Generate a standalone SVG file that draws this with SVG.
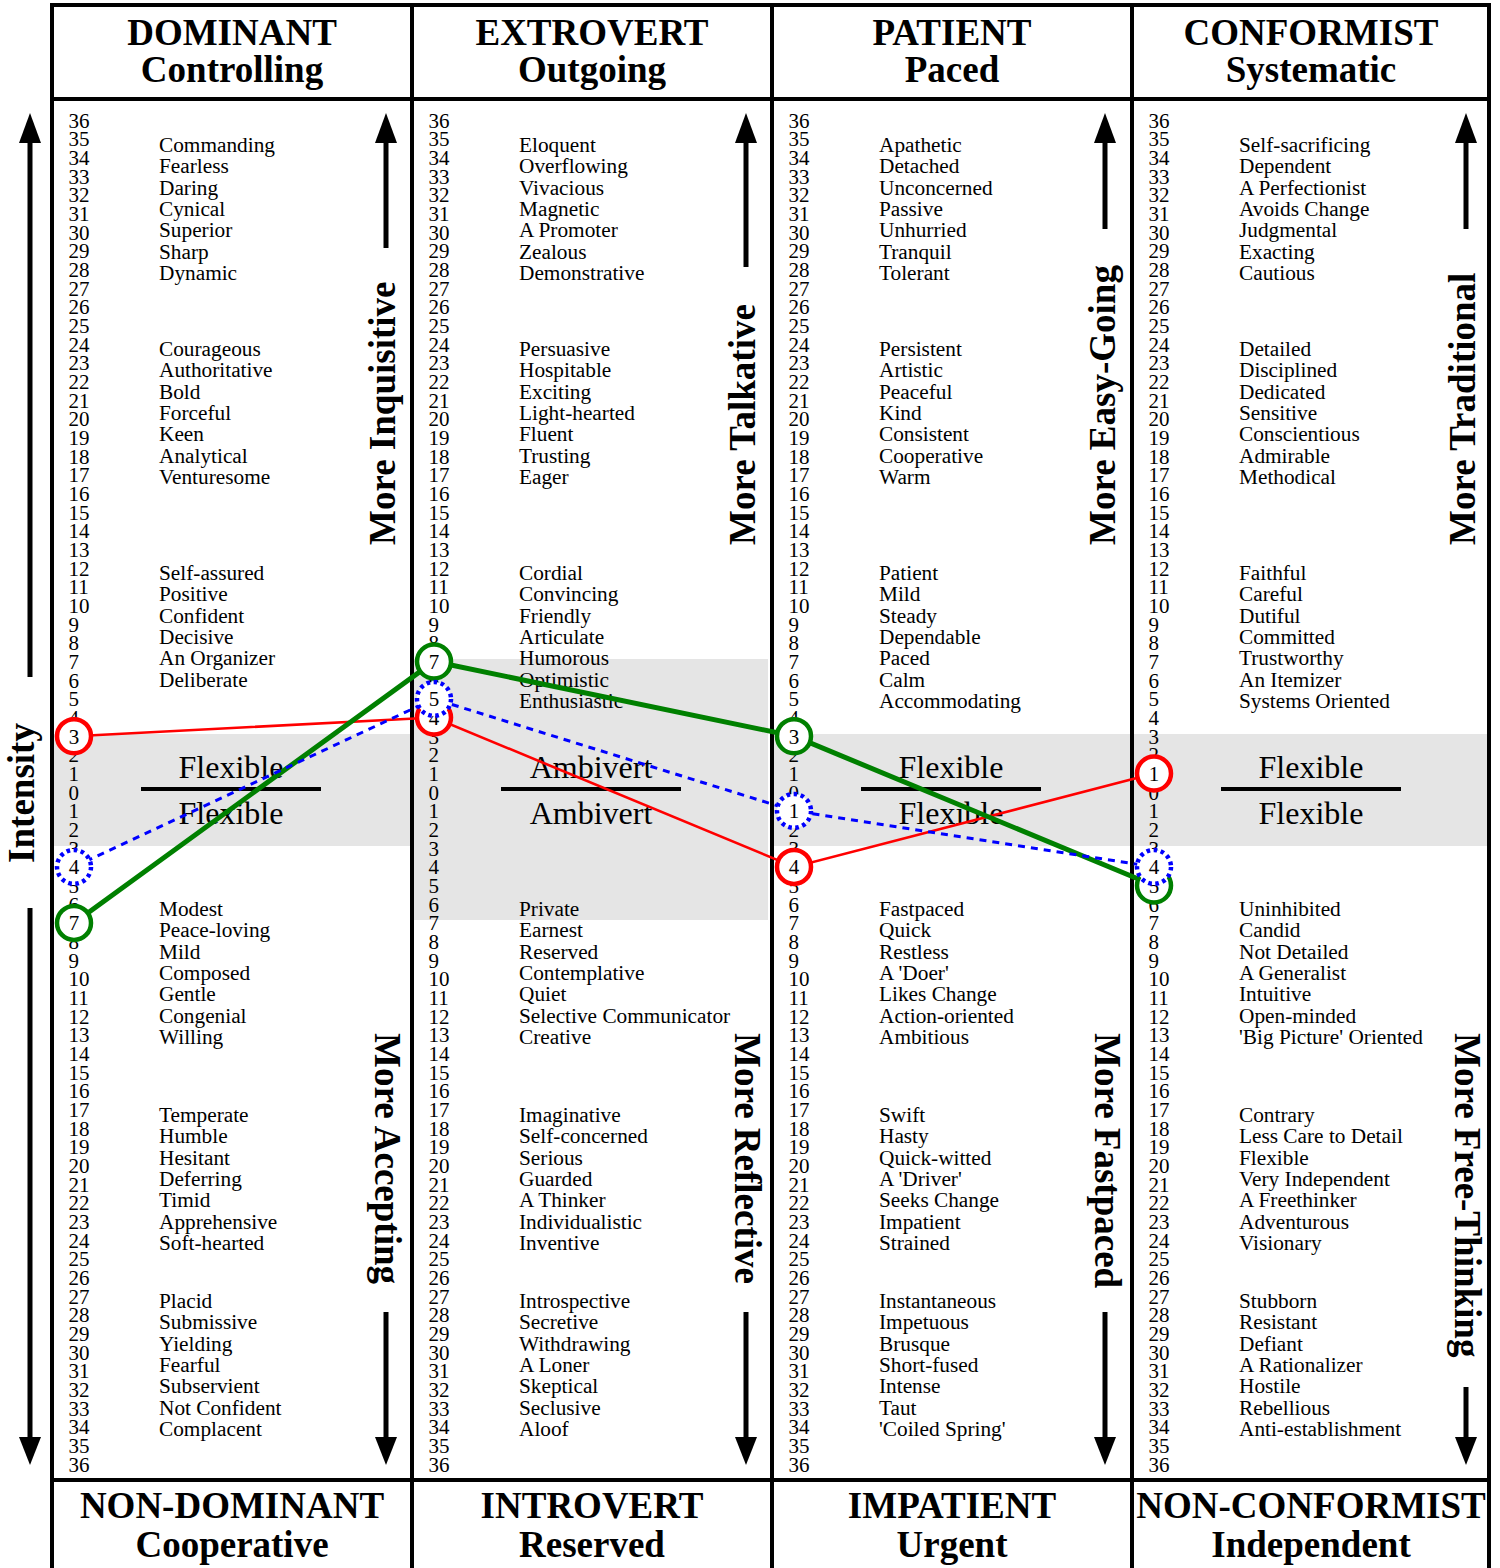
<svg xmlns="http://www.w3.org/2000/svg" xmlns:xlink="http://www.w3.org/1999/xlink" width="1500" height="1568" viewBox="0 0 1500 1568">
  <style>
    text { font-family: "Liberation Serif", "Times New Roman", serif; fill: #000; }
    .hdr { font-size: 37px; font-weight: bold; text-anchor: middle; }
    .side { font-size: 37px; font-weight: bold; }
    .num { font-size: 21px; }
    .word { font-size: 21.3px; }
    .mid { font-size: 32px; text-anchor: middle; }
    .cnum { font-size: 21px; text-anchor: middle; }
    .band { fill: #e5e5e5; }
    .rule { stroke: #000; stroke-width: 4; fill: none; }
    .shaft { stroke: #000; stroke-width: 5; }
    .head { fill: #000; }
    .red { stroke: #ff0000; stroke-width: 2.6; fill: none; }
    .green { stroke: #008000; stroke-width: 5; fill: none; }
    .blue { stroke: #0000ff; stroke-width: 3; stroke-dasharray: 7 6; fill: none; }
    .dot-red { stroke: #ff0000; stroke-width: 4.5; fill: #fff; }
    .dot-green { stroke: #008000; stroke-width: 4.5; fill: #fff; }
    .dot-blue { stroke: #0000ff; stroke-width: 4.5; stroke-dasharray: 3.6 3.6; fill: #fff; }
  </style>
  <defs>
    <!-- intensity scale 36..0..36 shared by all four columns -->
    <text id="scale" class="num"><tspan x="68.5" y="127.7">36</tspan><tspan x="68.5" dy="18.667">35</tspan><tspan x="68.5" dy="18.667">34</tspan><tspan x="68.5" dy="18.667">33</tspan><tspan x="68.5" dy="18.667">32</tspan><tspan x="68.5" dy="18.667">31</tspan><tspan x="68.5" dy="18.667">30</tspan><tspan x="68.5" dy="18.667">29</tspan><tspan x="68.5" dy="18.667">28</tspan><tspan x="68.5" dy="18.667">27</tspan><tspan x="68.5" dy="18.667">26</tspan><tspan x="68.5" dy="18.667">25</tspan><tspan x="68.5" dy="18.667">24</tspan><tspan x="68.5" dy="18.667">23</tspan><tspan x="68.5" dy="18.667">22</tspan><tspan x="68.5" dy="18.667">21</tspan><tspan x="68.5" dy="18.667">20</tspan><tspan x="68.5" dy="18.667">19</tspan><tspan x="68.5" dy="18.667">18</tspan><tspan x="68.5" dy="18.667">17</tspan><tspan x="68.5" dy="18.667">16</tspan><tspan x="68.5" dy="18.667">15</tspan><tspan x="68.5" dy="18.667">14</tspan><tspan x="68.5" dy="18.667">13</tspan><tspan x="68.5" dy="18.667">12</tspan><tspan x="68.5" dy="18.667">11</tspan><tspan x="68.5" dy="18.667">10</tspan><tspan x="68.5" dy="18.667">9</tspan><tspan x="68.5" dy="18.667">8</tspan><tspan x="68.5" dy="18.667">7</tspan><tspan x="68.5" dy="18.667">6</tspan><tspan x="68.5" dy="18.667">5</tspan><tspan x="68.5" dy="18.667">4</tspan><tspan x="68.5" dy="18.667">3</tspan><tspan x="68.5" dy="18.667">2</tspan><tspan x="68.5" dy="18.667">1</tspan><tspan x="68.5" dy="18.667">0</tspan><tspan x="68.5" dy="18.667">1</tspan><tspan x="68.5" dy="18.667">2</tspan><tspan x="68.5" dy="18.667">3</tspan><tspan x="68.5" dy="18.667">4</tspan><tspan x="68.5" dy="18.667">5</tspan><tspan x="68.5" dy="18.667">6</tspan><tspan x="68.5" dy="18.667">7</tspan><tspan x="68.5" dy="18.667">8</tspan><tspan x="68.5" dy="18.667">9</tspan><tspan x="68.5" dy="18.667">10</tspan><tspan x="68.5" dy="18.667">11</tspan><tspan x="68.5" dy="18.667">12</tspan><tspan x="68.5" dy="18.667">13</tspan><tspan x="68.5" dy="18.667">14</tspan><tspan x="68.5" dy="18.667">15</tspan><tspan x="68.5" dy="18.667">16</tspan><tspan x="68.5" dy="18.667">17</tspan><tspan x="68.5" dy="18.667">18</tspan><tspan x="68.5" dy="18.667">19</tspan><tspan x="68.5" dy="18.667">20</tspan><tspan x="68.5" dy="18.667">21</tspan><tspan x="68.5" dy="18.667">22</tspan><tspan x="68.5" dy="18.667">23</tspan><tspan x="68.5" dy="18.667">24</tspan><tspan x="68.5" dy="18.667">25</tspan><tspan x="68.5" dy="18.667">26</tspan><tspan x="68.5" dy="18.667">27</tspan><tspan x="68.5" dy="18.667">28</tspan><tspan x="68.5" dy="18.667">29</tspan><tspan x="68.5" dy="18.667">30</tspan><tspan x="68.5" dy="18.667">31</tspan><tspan x="68.5" dy="18.667">32</tspan><tspan x="68.5" dy="18.667">33</tspan><tspan x="68.5" dy="18.667">34</tspan><tspan x="68.5" dy="18.667">35</tspan><tspan x="68.5" dy="18.667">36</tspan></text>
    <path id="head-up" d="M0,0 L11,30 L-11,30 Z"/>
    <path id="head-down" d="M0,0 L11,-28 L-11,-28 Z"/>
  </defs>

  <rect width="1500" height="1568" fill="#fff"/>

  <!-- neutral zones -->
  <g id="bands">
    <rect class="band" x="52" y="734" width="360" height="112"/>
    <rect class="band" x="412" y="659" width="356" height="261"/>
    <rect class="band" x="772" y="734" width="360" height="112"/>
    <rect class="band" x="1132" y="734" width="358" height="112"/>
  </g>

  <!-- scales -->
  <g id="scales">
    <use xlink:href="#scale"/>
    <use xlink:href="#scale" x="360"/>
    <use xlink:href="#scale" x="720"/>
    <use xlink:href="#scale" x="1080"/>
  </g>

  <!-- column: DOMINANT / NON-DOMINANT -->
  <g id="col-dominant">
    <text class="hdr" x="232" y="45">DOMINANT</text>
    <text class="hdr" x="232" y="82">Controlling</text>
    <text class="word"><tspan x="159" y="152">Commanding</tspan><tspan x="159" dy="21.333">Fearless</tspan><tspan x="159" dy="21.333">Daring</tspan><tspan x="159" dy="21.333">Cynical</tspan><tspan x="159" dy="21.333">Superior</tspan><tspan x="159" dy="21.333">Sharp</tspan><tspan x="159" dy="21.333">Dynamic</tspan></text>
    <text class="word"><tspan x="159" y="356">Courageous</tspan><tspan x="159" dy="21.333">Authoritative</tspan><tspan x="159" dy="21.333">Bold</tspan><tspan x="159" dy="21.333">Forceful</tspan><tspan x="159" dy="21.333">Keen</tspan><tspan x="159" dy="21.333">Analytical</tspan><tspan x="159" dy="21.333">Venturesome</tspan></text>
    <text class="word"><tspan x="159" y="580">Self-assured</tspan><tspan x="159" dy="21.333">Positive</tspan><tspan x="159" dy="21.333">Confident</tspan><tspan x="159" dy="21.333">Decisive</tspan><tspan x="159" dy="21.333">An Organizer</tspan><tspan x="159" dy="21.333">Deliberate</tspan></text>
    <text class="mid" x="231" y="778">Flexible</text>
    <line class="rule" x1="141" y1="789" x2="321" y2="789"/>
    <text class="mid" x="231" y="824">Flexible</text>
    <text class="word"><tspan x="159" y="916">Modest</tspan><tspan x="159" dy="21.333">Peace-loving</tspan><tspan x="159" dy="21.333">Mild</tspan><tspan x="159" dy="21.333">Composed</tspan><tspan x="159" dy="21.333">Gentle</tspan><tspan x="159" dy="21.333">Congenial</tspan><tspan x="159" dy="21.333">Willing</tspan></text>
    <text class="word"><tspan x="159" y="1122">Temperate</tspan><tspan x="159" dy="21.333">Humble</tspan><tspan x="159" dy="21.333">Hesitant</tspan><tspan x="159" dy="21.333">Deferring</tspan><tspan x="159" dy="21.333">Timid</tspan><tspan x="159" dy="21.333">Apprehensive</tspan><tspan x="159" dy="21.333">Soft-hearted</tspan></text>
    <text class="word"><tspan x="159" y="1308">Placid</tspan><tspan x="159" dy="21.333">Submissive</tspan><tspan x="159" dy="21.333">Yielding</tspan><tspan x="159" dy="21.333">Fearful</tspan><tspan x="159" dy="21.333">Subservient</tspan><tspan x="159" dy="21.333">Not Confident</tspan><tspan x="159" dy="21.333">Complacent</tspan></text>
    <text class="hdr" x="232" y="1518">NON-DOMINANT</text>
    <text class="hdr" x="232" y="1557">Cooperative</text>
    <text class="side" transform="translate(395,545) rotate(-90)">More Inquisitive</text>
    <line class="shaft" x1="386" y1="248" x2="386" y2="140"/>
    <use xlink:href="#head-up" x="386" y="113" class="head"/>
    <text class="side" transform="translate(375,1033) rotate(90)">More Accepting</text>
    <line class="shaft" x1="386" y1="1312" x2="386" y2="1440"/>
    <use xlink:href="#head-down" x="386" y="1465" class="head"/>
  </g>

  <!-- column: EXTROVERT / INTROVERT -->
  <g id="col-extrovert">
    <text class="hdr" x="592" y="45">EXTROVERT</text>
    <text class="hdr" x="592" y="82">Outgoing</text>
    <text class="word"><tspan x="519" y="152">Eloquent</tspan><tspan x="519" dy="21.333">Overflowing</tspan><tspan x="519" dy="21.333">Vivacious</tspan><tspan x="519" dy="21.333">Magnetic</tspan><tspan x="519" dy="21.333">A Promoter</tspan><tspan x="519" dy="21.333">Zealous</tspan><tspan x="519" dy="21.333">Demonstrative</tspan></text>
    <text class="word"><tspan x="519" y="356">Persuasive</tspan><tspan x="519" dy="21.333">Hospitable</tspan><tspan x="519" dy="21.333">Exciting</tspan><tspan x="519" dy="21.333">Light-hearted</tspan><tspan x="519" dy="21.333">Fluent</tspan><tspan x="519" dy="21.333">Trusting</tspan><tspan x="519" dy="21.333">Eager</tspan></text>
    <text class="word"><tspan x="519" y="580">Cordial</tspan><tspan x="519" dy="21.333">Convincing</tspan><tspan x="519" dy="21.333">Friendly</tspan><tspan x="519" dy="21.333">Articulate</tspan><tspan x="519" dy="21.333">Humorous</tspan><tspan x="519" dy="21.333">Optimistic</tspan><tspan x="519" dy="21.333">Enthusiastic</tspan></text>
    <text class="mid" x="591" y="778">Ambivert</text>
    <line class="rule" x1="501" y1="789" x2="681" y2="789"/>
    <text class="mid" x="591" y="824">Ambivert</text>
    <text class="word"><tspan x="519" y="916">Private</tspan><tspan x="519" dy="21.333">Earnest</tspan><tspan x="519" dy="21.333">Reserved</tspan><tspan x="519" dy="21.333">Contemplative</tspan><tspan x="519" dy="21.333">Quiet</tspan><tspan x="519" dy="21.333">Selective Communicator</tspan><tspan x="519" dy="21.333">Creative</tspan></text>
    <text class="word"><tspan x="519" y="1122">Imaginative</tspan><tspan x="519" dy="21.333">Self-concerned</tspan><tspan x="519" dy="21.333">Serious</tspan><tspan x="519" dy="21.333">Guarded</tspan><tspan x="519" dy="21.333">A Thinker</tspan><tspan x="519" dy="21.333">Individualistic</tspan><tspan x="519" dy="21.333">Inventive</tspan></text>
    <text class="word"><tspan x="519" y="1308">Introspective</tspan><tspan x="519" dy="21.333">Secretive</tspan><tspan x="519" dy="21.333">Withdrawing</tspan><tspan x="519" dy="21.333">A Loner</tspan><tspan x="519" dy="21.333">Skeptical</tspan><tspan x="519" dy="21.333">Seclusive</tspan><tspan x="519" dy="21.333">Aloof</tspan></text>
    <text class="hdr" x="592" y="1518">INTROVERT</text>
    <text class="hdr" x="592" y="1557">Reserved</text>
    <text class="side" transform="translate(755,545) rotate(-90)">More Talkative</text>
    <line class="shaft" x1="746" y1="267" x2="746" y2="140"/>
    <use xlink:href="#head-up" x="746" y="113" class="head"/>
    <text class="side" transform="translate(735,1033) rotate(90)">More Reflective</text>
    <line class="shaft" x1="746" y1="1312" x2="746" y2="1440"/>
    <use xlink:href="#head-down" x="746" y="1465" class="head"/>
  </g>

  <!-- column: PATIENT / IMPATIENT -->
  <g id="col-patient">
    <text class="hdr" x="952" y="45">PATIENT</text>
    <text class="hdr" x="952" y="82">Paced</text>
    <text class="word"><tspan x="879" y="152">Apathetic</tspan><tspan x="879" dy="21.333">Detached</tspan><tspan x="879" dy="21.333">Unconcerned</tspan><tspan x="879" dy="21.333">Passive</tspan><tspan x="879" dy="21.333">Unhurried</tspan><tspan x="879" dy="21.333">Tranquil</tspan><tspan x="879" dy="21.333">Tolerant</tspan></text>
    <text class="word"><tspan x="879" y="356">Persistent</tspan><tspan x="879" dy="21.333">Artistic</tspan><tspan x="879" dy="21.333">Peaceful</tspan><tspan x="879" dy="21.333">Kind</tspan><tspan x="879" dy="21.333">Consistent</tspan><tspan x="879" dy="21.333">Cooperative</tspan><tspan x="879" dy="21.333">Warm</tspan></text>
    <text class="word"><tspan x="879" y="580">Patient</tspan><tspan x="879" dy="21.333">Mild</tspan><tspan x="879" dy="21.333">Steady</tspan><tspan x="879" dy="21.333">Dependable</tspan><tspan x="879" dy="21.333">Paced</tspan><tspan x="879" dy="21.333">Calm</tspan><tspan x="879" dy="21.333">Accommodating</tspan></text>
    <text class="mid" x="951" y="778">Flexible</text>
    <line class="rule" x1="861" y1="789" x2="1041" y2="789"/>
    <text class="mid" x="951" y="824">Flexible</text>
    <text class="word"><tspan x="879" y="916">Fastpaced</tspan><tspan x="879" dy="21.333">Quick</tspan><tspan x="879" dy="21.333">Restless</tspan><tspan x="879" dy="21.333">A 'Doer'</tspan><tspan x="879" dy="21.333">Likes Change</tspan><tspan x="879" dy="21.333">Action-oriented</tspan><tspan x="879" dy="21.333">Ambitious</tspan></text>
    <text class="word"><tspan x="879" y="1122">Swift</tspan><tspan x="879" dy="21.333">Hasty</tspan><tspan x="879" dy="21.333">Quick-witted</tspan><tspan x="879" dy="21.333">A 'Driver'</tspan><tspan x="879" dy="21.333">Seeks Change</tspan><tspan x="879" dy="21.333">Impatient</tspan><tspan x="879" dy="21.333">Strained</tspan></text>
    <text class="word"><tspan x="879" y="1308">Instantaneous</tspan><tspan x="879" dy="21.333">Impetuous</tspan><tspan x="879" dy="21.333">Brusque</tspan><tspan x="879" dy="21.333">Short-fused</tspan><tspan x="879" dy="21.333">Intense</tspan><tspan x="879" dy="21.333">Taut</tspan><tspan x="879" dy="21.333">'Coiled Spring'</tspan></text>
    <text class="hdr" x="952" y="1518">IMPATIENT</text>
    <text class="hdr" x="952" y="1557">Urgent</text>
    <text class="side" transform="translate(1115,545) rotate(-90)">More Easy-Going</text>
    <line class="shaft" x1="1105" y1="229" x2="1105" y2="140"/>
    <use xlink:href="#head-up" x="1105" y="113" class="head"/>
    <text class="side" transform="translate(1095,1033) rotate(90)">More Fastpaced</text>
    <line class="shaft" x1="1105" y1="1312" x2="1105" y2="1440"/>
    <use xlink:href="#head-down" x="1105" y="1465" class="head"/>
  </g>

  <!-- column: CONFORMIST / NON-CONFORMIST -->
  <g id="col-conformist">
    <text class="hdr" x="1311" y="45">CONFORMIST</text>
    <text class="hdr" x="1311" y="82">Systematic</text>
    <text class="word"><tspan x="1239" y="152">Self-sacrificing</tspan><tspan x="1239" dy="21.333">Dependent</tspan><tspan x="1239" dy="21.333">A Perfectionist</tspan><tspan x="1239" dy="21.333">Avoids Change</tspan><tspan x="1239" dy="21.333">Judgmental</tspan><tspan x="1239" dy="21.333">Exacting</tspan><tspan x="1239" dy="21.333">Cautious</tspan></text>
    <text class="word"><tspan x="1239" y="356">Detailed</tspan><tspan x="1239" dy="21.333">Disciplined</tspan><tspan x="1239" dy="21.333">Dedicated</tspan><tspan x="1239" dy="21.333">Sensitive</tspan><tspan x="1239" dy="21.333">Conscientious</tspan><tspan x="1239" dy="21.333">Admirable</tspan><tspan x="1239" dy="21.333">Methodical</tspan></text>
    <text class="word"><tspan x="1239" y="580">Faithful</tspan><tspan x="1239" dy="21.333">Careful</tspan><tspan x="1239" dy="21.333">Dutiful</tspan><tspan x="1239" dy="21.333">Committed</tspan><tspan x="1239" dy="21.333">Trustworthy</tspan><tspan x="1239" dy="21.333">An Itemizer</tspan><tspan x="1239" dy="21.333">Systems Oriented</tspan></text>
    <text class="mid" x="1311" y="778">Flexible</text>
    <line class="rule" x1="1221" y1="789" x2="1401" y2="789"/>
    <text class="mid" x="1311" y="824">Flexible</text>
    <text class="word"><tspan x="1239" y="916">Uninhibited</tspan><tspan x="1239" dy="21.333">Candid</tspan><tspan x="1239" dy="21.333">Not Detailed</tspan><tspan x="1239" dy="21.333">A Generalist</tspan><tspan x="1239" dy="21.333">Intuitive</tspan><tspan x="1239" dy="21.333">Open-minded</tspan><tspan x="1239" dy="21.333">'Big Picture' Oriented</tspan></text>
    <text class="word"><tspan x="1239" y="1122">Contrary</tspan><tspan x="1239" dy="21.333">Less Care to Detail</tspan><tspan x="1239" dy="21.333">Flexible</tspan><tspan x="1239" dy="21.333">Very Independent</tspan><tspan x="1239" dy="21.333">A Freethinker</tspan><tspan x="1239" dy="21.333">Adventurous</tspan><tspan x="1239" dy="21.333">Visionary</tspan></text>
    <text class="word"><tspan x="1239" y="1308">Stubborn</tspan><tspan x="1239" dy="21.333">Resistant</tspan><tspan x="1239" dy="21.333">Defiant</tspan><tspan x="1239" dy="21.333">A Rationalizer</tspan><tspan x="1239" dy="21.333">Hostile</tspan><tspan x="1239" dy="21.333">Rebellious</tspan><tspan x="1239" dy="21.333">Anti-establishment</tspan></text>
    <text class="hdr" x="1311" y="1518">NON-CONFORMIST</text>
    <text class="hdr" x="1311" y="1557">Independent</text>
    <text class="side" transform="translate(1475,545) rotate(-90)">More Traditional</text>
    <line class="shaft" x1="1466" y1="229" x2="1466" y2="140"/>
    <use xlink:href="#head-up" x="1466" y="113" class="head"/>
    <text class="side" transform="translate(1455,1033) rotate(90)">More Free-Thinking</text>
    <line class="shaft" x1="1466" y1="1387" x2="1466" y2="1440"/>
    <use xlink:href="#head-down" x="1466" y="1465" class="head"/>
  </g>

  <!-- intensity axis on the far left -->
  <g id="intensity-axis">
    <text class="side" text-anchor="middle" transform="translate(34,793) rotate(-90)">Intensity</text>
    <line class="shaft" x1="30" y1="677" x2="30" y2="140"/>
    <use xlink:href="#head-up" x="30" y="113" class="head"/>
    <line class="shaft" x1="30" y1="908" x2="30" y2="1440"/>
    <use xlink:href="#head-down" x="30" y="1465" class="head"/>
  </g>

  <!-- table frame -->
  <g id="frame">
    <line class="rule" x1="50" y1="5" x2="1491" y2="5"/>
    <line class="rule" x1="50" y1="99" x2="1491" y2="99"/>
    <line class="rule" x1="50" y1="1480" x2="1491" y2="1480"/>
    <line class="rule" x1="52" y1="3" x2="52" y2="1568"/>
    <line class="rule" x1="412" y1="3" x2="412" y2="1568"/>
    <line class="rule" x1="772" y1="3" x2="772" y2="1568"/>
    <line class="rule" x1="1132" y1="3" x2="1132" y2="1568"/>
    <line class="rule" x1="1489" y1="3" x2="1489" y2="1568"/>
  </g>

  <!-- profile connectors -->
  <g id="connectors">
    <polyline class="red" points="74,736.2 434,717.5 794,866.9 1154,773.5"/>
    <polyline class="green" points="74,922.9 434,661.5 794,736.2 1154,885.5"/>
    <polyline class="blue" points="74,866.9 434,698.9 794,810.9 1154,866.9"/>
  </g>

  <!-- profile points -->
  <g id="pt-red-1"><circle class="dot-red" cx="74" cy="736.2" r="17"/><text class="cnum" x="74" y="743.7">3</text></g>
  <g id="pt-red-2"><circle class="dot-red" cx="434" cy="717.5" r="17"/><text class="cnum" x="434" y="725">4</text></g>
  <g id="pt-red-3"><circle class="dot-red" cx="794" cy="866.9" r="17"/><text class="cnum" x="794" y="874.4">4</text></g>
  <g id="pt-red-4"><circle class="dot-red" cx="1154" cy="773.5" r="17"/><text class="cnum" x="1154" y="781">1</text></g>
  <g id="pt-green-1"><circle class="dot-green" cx="74" cy="922.9" r="17"/><text class="cnum" x="74" y="930.4">7</text></g>
  <g id="pt-green-2"><circle class="dot-green" cx="434" cy="661.5" r="17"/><text class="cnum" x="434" y="669">7</text></g>
  <g id="pt-green-3"><circle class="dot-green" cx="794" cy="736.2" r="17"/><text class="cnum" x="794" y="743.7">3</text></g>
  <g id="pt-green-4"><circle class="dot-green" cx="1154" cy="885.5" r="17"/><text class="cnum" x="1154" y="893">5</text></g>
  <g id="pt-blue-1"><circle class="dot-blue" cx="74" cy="866.9" r="17"/><text class="cnum" x="74" y="874.4">4</text></g>
  <g id="pt-blue-2"><circle class="dot-blue" cx="434" cy="698.9" r="17"/><text class="cnum" x="434" y="706.4">5</text></g>
  <g id="pt-blue-3"><circle class="dot-blue" cx="794" cy="810.9" r="17"/><text class="cnum" x="794" y="818.4">1</text></g>
  <g id="pt-blue-4"><circle class="dot-blue" cx="1154" cy="866.9" r="17"/><text class="cnum" x="1154" y="874.4">4</text></g>
</svg>
